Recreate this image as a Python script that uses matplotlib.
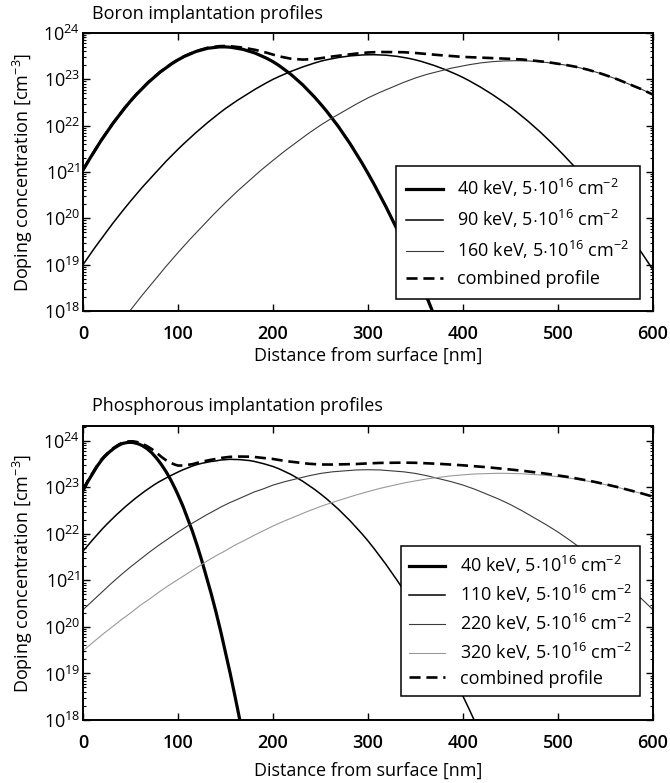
import numpy as np
import matplotlib
matplotlib.use("Agg")
import matplotlib.pyplot as plt
from matplotlib.path import Path
from matplotlib.patches import PathPatch
from matplotlib.lines import Line2D
from matplotlib.ticker import LogLocator, FixedLocator, NullFormatter, LogFormatterMathtext

plt.rcParams["font.family"] = ["Open Sans", "DejaVu Sans"]
plt.rcParams["mathtext.fontset"] = "custom"
plt.rcParams["mathtext.rm"] = "Open Sans"
plt.rcParams["mathtext.it"] = "Open Sans:italic"
plt.rcParams["mathtext.bf"] = "Open Sans:bold"

nan = np.nan

# ---- Boron: depth grid [nm] and log10 of concentration [cm^-3] ----
depth_b = [0, 25, 50, 75, 100, 125, 150, 175, 200, 225, 250, 275, 300,
           325, 350, 375, 400, 425, 450, 475, 500, 525, 550, 575, 600]
b_40keV = [21.04, 21.86, 22.53, 23.05, 23.42, 23.64, 23.70, 23.61, 23.38, 23.00,
           22.47, 21.80, 20.97, 20.00, 18.89, 17.62, 16.21, 14.65, 12.94,
           nan, nan, nan, nan, nan, nan]
b_90keV = [19.00, 19.72, 20.37, 20.96, 21.49, 21.96, 22.37, 22.71, 23.00, 23.22,
           23.39, 23.49, 23.53, 23.51, 23.42, 23.26, 23.04, 22.75, 22.40, 21.98,
           21.49, 20.94, 20.32, 19.64, 18.89]
b_160keV = [16.61, 17.33, 18.02, 18.66, 19.26, 19.82, 20.34, 20.82, 21.25, 21.65,
            22.01, 22.32, 22.60, 22.83, 23.03, 23.18, 23.29, 23.37, 23.40, 23.39,
            23.33, 23.24, 23.09, 22.90, 22.67]
boron_labels = ["40 keV, 5$\\cdot$10$^{16}$ cm$^{-2}$",
                "90 keV, 5$\\cdot$10$^{16}$ cm$^{-2}$",
                "160 keV, 5$\\cdot$10$^{16}$ cm$^{-2}$"]

# ---- Phosphorous ----
depth_p = [0, 10, 20, 30, 40, 50, 60, 70, 80, 90, 100, 110, 120, 130, 140, 150,
           160, 170, 180, 190, 200, 225, 250, 275, 300, 325, 350, 375, 400, 425,
           450, 475, 500, 525, 550, 575, 600]
p_40keV = [22.93, 23.30, 23.60, 23.80, 23.93, 23.97, 23.92, 23.79, 23.56, 23.25,
           22.84, 22.35, 21.76, 21.08, 20.32, 19.46, 18.51, 17.48, 16.35, 15.13,
           13.82, nan, nan, nan, nan, nan, nan, nan, nan, nan, nan, nan, nan, nan,
           nan, nan, nan]
p_110keV = [21.63, 21.87, 22.10, 22.31, 22.50, 22.68, 22.84, 22.99, 23.12, 23.23,
            23.33, 23.42, 23.49, 23.54, 23.57, 23.60, 23.60, 23.59, 23.56, 23.51,
            23.45, 23.21, 22.86, 22.41, 21.85, 21.17, 20.39, 19.50, 18.51, 17.40,
            16.18, nan, nan, nan, nan, nan, nan]
p_220keV = [20.37, 20.56, 20.75, 20.94, 21.12, 21.29, 21.45, 21.61, 21.76, 21.90,
            22.04, 22.17, 22.29, 22.41, 22.52, 22.63, 22.72, 22.81, 22.90, 22.97,
            23.05, 23.19, 23.30, 23.36, 23.38, 23.36, 23.30, 23.19, 23.05, 22.86,
            22.63, 22.35, 22.04, 21.68, 21.29, 20.85, 20.37]
p_320keV = [19.49, 19.66, 19.83, 19.99, 20.15, 20.30, 20.46, 20.60, 20.75, 20.89,
            21.02, 21.15, 21.28, 21.41, 21.53, 21.64, 21.76, 21.86, 21.97, 22.07,
            22.17, 22.39, 22.59, 22.76, 22.91, 23.04, 23.14, 23.22, 23.27, 23.30,
            23.30, 23.28, 23.23, 23.16, 23.06, 22.94, 22.80]
phos_labels = ["40 keV, 5$\\cdot$10$^{16}$ cm$^{-2}$",
               "110 keV, 5$\\cdot$10$^{16}$ cm$^{-2}$",
               "220 keV, 5$\\cdot$10$^{16}$ cm$^{-2}$",
               "320 keV, 5$\\cdot$10$^{16}$ cm$^{-2}$"]

x_ticks = [0, 100, 200, 300, 400, 500, 600]

# line styles: heaviest for the lowest implant energy
styles = [dict(color="black", lw=2.3),
          dict(color="black", lw=1.1),
          dict(color="#3a3a3a", lw=0.8),
          dict(color="#9a9a9a", lw=0.8)]
dash_style = dict(color="black", lw=1.9, dashes=(4.2, 2.2))

FS = 13


def profile_path(depth, logc):
    """Smooth path through the sampled points: consecutive triples of
    samples are joined by quadratic Bezier segments in (depth, log10 N)."""
    x = np.asarray(depth, dtype=float)
    y = np.asarray(logc, dtype=float)
    ok = ~np.isnan(y)
    x, y = x[ok], y[ok]
    verts = [(x[0], 10 ** y[0])]
    codes = [Path.MOVETO]
    i = 0
    while i + 2 < len(x):
        cx = 2 * x[i + 1] - 0.5 * (x[i] + x[i + 2])
        cy = 2 * y[i + 1] - 0.5 * (y[i] + y[i + 2])
        verts += [(cx, 10 ** cy), (x[i + 2], 10 ** y[i + 2])]
        codes += [Path.CURVE3, Path.CURVE3]
        i += 2
    if i + 1 < len(x):
        verts.append((x[i + 1], 10 ** y[i + 1]))
        codes.append(Path.LINETO)
    return Path(verts, codes)


def add_curve(ax, depth, logc, color, lw, dashes=None):
    patch = PathPatch(profile_path(depth, logc), fill=False, edgecolor=color,
                      linewidth=lw, joinstyle="round", capstyle="butt")
    if dashes is not None:
        patch.set_linestyle((0, dashes))
    ax.add_patch(patch)


def draw(ax, depth, profiles, labels):
    handles = []
    for prof, lab, st in zip(profiles, labels, styles):
        add_curve(ax, depth, prof, st["color"], st["lw"])
        handles.append(Line2D([], [], color=st["color"], lw=st["lw"], label=lab))
    conc = np.vstack([10 ** np.asarray(p, dtype=float) for p in profiles])
    total = np.log10(np.nansum(conc, axis=0))
    add_curve(ax, depth, total, dash_style["color"], dash_style["lw"],
              dash_style["dashes"])
    handles.append(Line2D([], [], color=dash_style["color"], lw=dash_style["lw"],
                          dashes=dash_style["dashes"], label="combined profile"))
    return handles


W, H = 670, 783
fig = plt.figure(figsize=(W / 100, H / 100), dpi=100)
ax1 = fig.add_axes([83 / W, 1 - 311 / H, 570 / W, 278 / H])
ax2 = fig.add_axes([83 / W, 1 - 720 / H, 570 / W, 294 / H])

h1 = draw(ax1, depth_b, [b_40keV, b_90keV, b_160keV], boron_labels)
h2 = draw(ax2, depth_p, [p_40keV, p_110keV, p_220keV, p_320keV], phos_labels)

for ax in (ax1, ax2):
    ax.set_yscale("log")
    ax.set_xlim(0, 600)
ax1.set_ylim(1e18, 1e24)
ax2.set_ylim(1e18, 10 ** 24.32)

for ax in (ax1, ax2):
    ax.xaxis.set_major_locator(FixedLocator(x_ticks))
    ax.yaxis.set_major_locator(LogLocator(base=10, numticks=10))
    ax.yaxis.set_minor_locator(LogLocator(base=10, subs=np.arange(2, 10), numticks=20))
    ax.yaxis.set_minor_formatter(NullFormatter())
    ax.yaxis.set_major_formatter(LogFormatterMathtext())
    ax.tick_params(which="both", direction="in", top=True, right=True)
    ax.tick_params(which="major", length=5, width=1.0, labelsize=FS)
    ax.tick_params(which="minor", length=2.5, width=0.8)
    ax.tick_params(axis="x", pad=10)
    ax.tick_params(axis="y", pad=2)
    for lab in ax.get_xticklabels():
        lab.set_fontweight("semibold")
    for sp in ax.spines.values():
        sp.set_linewidth(1.4)
    ax.set_ylabel("Doping concentration [cm$^{-3}$]", fontsize=FS, labelpad=6)
ax1.set_xlabel("Distance from surface [nm]", fontsize=FS, labelpad=3)
ax2.set_xlabel("Distance from surface [nm]", fontsize=FS, labelpad=7)

leg1 = ax1.legend(handles=h1, loc="lower right", bbox_to_anchor=(0.977, 0.043),
                  borderaxespad=0, fontsize=FS, handlelength=2.0, labelspacing=0.5,
                  borderpad=0.6, fancybox=False, edgecolor="black", framealpha=1)
leg2 = ax2.legend(handles=h2, loc="lower right", bbox_to_anchor=(0.977, 0.082),
                  borderaxespad=0, fontsize=FS, handlelength=2.0, labelspacing=0.38,
                  borderpad=0.45, fancybox=False, edgecolor="black", framealpha=1)
for leg in (leg1, leg2):
    leg.get_frame().set_linewidth(1.1)

fig.text(92 / W, 1 - 14 / H, "Boron implantation profiles", fontsize=FS,
         ha="left", va="center")
fig.text(92 / W, 1 - 406 / H, "Phosphorous implantation profiles", fontsize=FS,
         ha="left", va="center")

fig.savefig("out.png", dpi=100)
